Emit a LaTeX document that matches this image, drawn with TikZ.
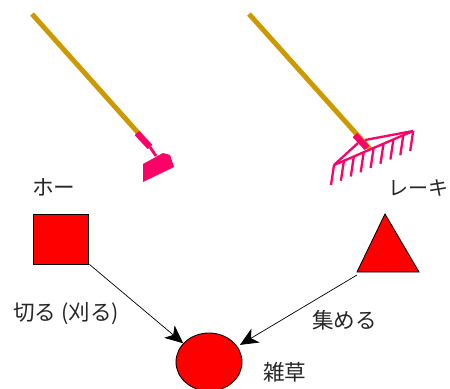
\documentclass[tikz,border=0pt]{standalone}
\usepackage{fontspec}
\usepackage{xcolor}
\usepackage{tikz}
\usetikzlibrary{arrows.meta,shapes.geometric}
\setmainfont{Noto Sans CJK JP}
\definecolor{handlegold}{HTML}{CC9900}
\definecolor{toolpink}{HTML}{FF0066}

\begin{document}
\begin{tikzpicture}[
    x=0.02cm,y=-0.02cm,
    >={Stealth[length=0.36cm,width=0.32cm,inset=0.1cm]},
    handle/.style={handlegold,line width=2.8pt},
    ferrule/.style={toolpink,line width=3.6pt},
    tine/.style={toolpink,line width=1.3pt},
    shapebox/.style={draw=black,fill=red,line width=0.5pt,inner sep=0pt},
    relation/.style={->,black,line width=0.4pt},
    jalabel/.style={font=\fontsize{12.3}{14}\selectfont,text=black!85,inner sep=0pt,anchor=west},
  ]
    \useasboundingbox (0,0) rectangle (450,389);

    % hoe
    \draw[handle] (32,14) -- (141,136);
    \draw[ferrule] (137,133) -- (150,147);
    \draw[toolpink,line width=1.6pt] (150,147) -- (156,156);
    \fill[toolpink] (143,164) -- (163,153) -- (170,155) -- (174,167) -- (143,182) -- cycle;

    % rake
    \draw[handle] (249,14) -- (370,149);
    \draw[ferrule] (355,135) -- (367,148);
    \draw[tine] (334,165) -- (413,131);
    \draw[tine] (334,165) -- (358,143);
    \draw[tine] (365,140) -- (413,131);
    \foreach \i in {0,...,8}
      \draw[tine] ({334+\i*9.9},{165-\i*4.25}) -- ++(-3,20);

    % tool labels
    \node[jalabel] (hoelabel) at (32,187) {ホー};
    \node[jalabel,font=\fontsize{11.4}{14}\selectfont] (rakelabel) at (388,188) {レーキ};

    \node[shapebox,rectangle,minimum width=1.1cm,minimum height=1cm] (hoe) at (60.5,239) {};
    \draw[shapebox] (385,214) -- (419,272) -- (357,272) -- cycle;
    \coordinate (rake) at (357,275);
    \node[shapebox,ellipse,minimum width=1.32cm,minimum height=1.16cm] (weed) at (209,362) {};

    \draw[relation] (hoe.south east) ++(1,0) -- (weed.144);
    \draw[relation] (rake) -- ([shift={(3,-1)}]weed.30);

    \node[jalabel] (cutlabel) at (13,314) {切る (刈る)};
    \node[jalabel] (gatherlabel) at (312,320) {集める};
    \node[jalabel] (weedlabel) at (263,372) {雑草};
\end{tikzpicture}
\end{document}
